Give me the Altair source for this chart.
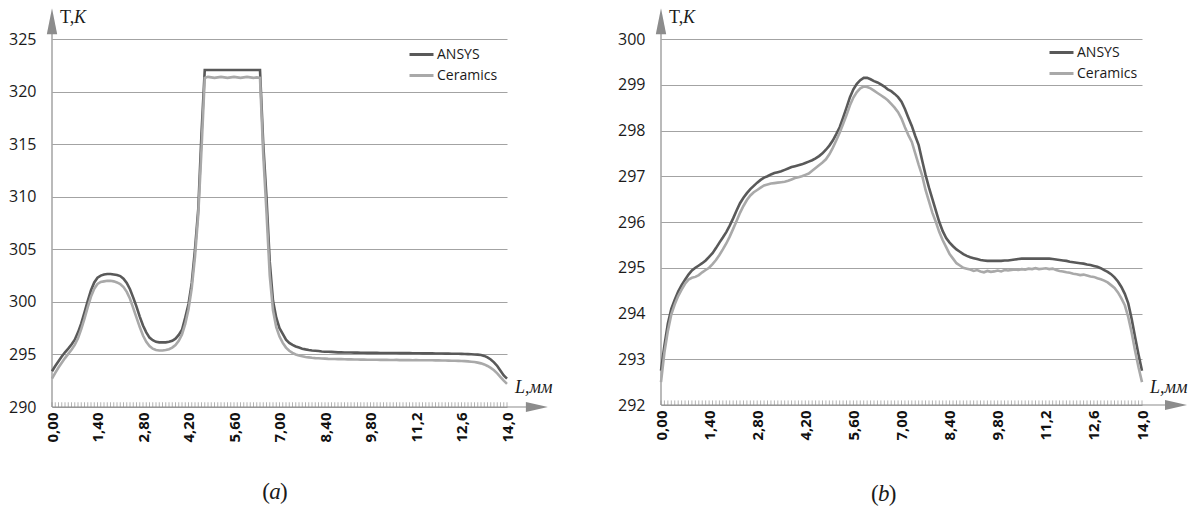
import altair as alt
import pandas as pd

# x positions of the samples (mm), one every 0.1 mm
L_MM = [round(i / 10, 1) for i in range(141)]

SERIES = ["ANSYS", "Ceramics"]
COLORS = ["#595959", "#a9a9a9"]
LABEL_STEPS = [0.0, 1.4, 2.8, 4.2, 5.6, 7.0, 8.4, 9.8, 11.2, 12.6, 14.0]
Y_TICKS_A = [290, 295, 300, 305, 310, 315, 320, 325]
Y_TICKS_B = [292, 293, 294, 295, 296, 297, 298, 299, 300]

# ---- panel (a) ----
ANSYS_A = [
    293.4, 293.9, 294.35, 294.8, 295.2, 295.55, 295.95, 296.4, 297.1, 297.95,
    299.0, 300.1, 301.1, 301.85, 302.3, 302.5, 302.6, 302.65, 302.65, 302.6,
    302.55, 302.45, 302.2, 301.8, 301.2, 300.4, 299.55, 298.6, 297.75, 297.1,
    296.6, 296.35, 296.2, 296.15, 296.15, 296.15, 296.2, 296.3, 296.5, 296.85,
    297.35, 298.5, 299.8, 301.8, 305.0, 308.8, 316.0, 322.05, 322.05, 322.05,
    322.05, 322.05, 322.05, 322.05, 322.05, 322.05, 322.05, 322.05, 322.05, 322.05,
    322.05, 322.05, 322.05, 322.05, 322.05, 315.0, 309.9, 303.8, 300.1, 298.5,
    297.5, 296.95, 296.4, 296.1, 295.9, 295.75, 295.65, 295.55, 295.48, 295.42,
    295.38, 295.35, 295.32, 295.28, 295.26, 295.25, 295.24, 295.22, 295.2, 295.2,
    295.19, 295.18, 295.18, 295.17, 295.17, 295.16, 295.16, 295.15, 295.15, 295.15,
    295.15, 295.14, 295.14, 295.14, 295.13, 295.13, 295.13, 295.12, 295.12, 295.12,
    295.12, 295.11, 295.11, 295.11, 295.1, 295.1, 295.1, 295.1, 295.09, 295.09,
    295.09, 295.08, 295.08, 295.07, 295.07, 295.06, 295.05, 295.04, 295.03, 295.02,
    295.0, 294.98, 294.94, 294.86, 294.72, 294.52, 294.25, 293.9, 293.45, 293.0,
    292.7,
]
CERAMICS_A = [
    292.7, 293.25, 293.75, 294.2, 294.65, 295.05, 295.45, 295.9, 296.55, 297.4,
    298.4, 299.5, 300.5, 301.25, 301.7, 301.9, 301.95, 302.0, 302.0, 301.95,
    301.85, 301.7, 301.4, 300.95, 300.3, 299.4, 298.5, 297.6, 296.8, 296.2,
    295.8, 295.55, 295.42, 295.38, 295.38, 295.42, 295.5, 295.65, 295.9, 296.3,
    296.9, 297.9, 299.3, 301.3, 304.3, 308.3, 314.5, 321.3, 321.4, 321.35,
    321.3, 321.35, 321.4, 321.35, 321.3, 321.35, 321.4, 321.35, 321.3, 321.35,
    321.4, 321.35, 321.3, 321.35, 321.3, 314.0, 308.5, 302.5, 299.2, 297.6,
    296.7, 296.1, 295.65, 295.35, 295.15, 295.0, 294.9, 294.82, 294.76, 294.72,
    294.68, 294.65, 294.63, 294.61, 294.6, 294.58, 294.57, 294.56, 294.55, 294.55,
    294.54, 294.53, 294.53, 294.52, 294.52, 294.51, 294.51, 294.5, 294.5, 294.49,
    294.49, 294.48, 294.48, 294.49, 294.47, 294.47, 294.48, 294.46, 294.46, 294.47,
    294.46, 294.45, 294.46, 294.45, 294.45, 294.44, 294.44, 294.45, 294.43, 294.43,
    294.42, 294.42, 294.41, 294.4, 294.4, 294.39, 294.38, 294.36, 294.34, 294.31,
    294.28, 294.22, 294.15, 294.05, 293.9, 293.72, 293.5, 293.2, 292.85, 292.5,
    292.2,
]

# ---- panel (b) ----
ANSYS_B = [
    292.75, 293.3, 293.78, 294.1, 294.3, 294.48, 294.62, 294.74, 294.85, 294.94,
    295.0, 295.05, 295.1, 295.16, 295.24, 295.32, 295.43, 295.55, 295.66, 295.78,
    295.92, 296.08, 296.25, 296.41, 296.53, 296.63, 296.72, 296.79, 296.86, 296.92,
    296.97, 297.0, 297.04, 297.07, 297.09, 297.11, 297.14, 297.17, 297.2, 297.22,
    297.24, 297.26, 297.29, 297.32, 297.35, 297.39, 297.44, 297.5, 297.58, 297.67,
    297.78, 297.92, 298.07, 298.28, 298.5, 298.73, 298.9, 299.02, 299.1, 299.15,
    299.15, 299.12, 299.08, 299.05, 299.01, 298.96, 298.9, 298.86, 298.8, 298.73,
    298.63, 298.47, 298.28, 298.1, 297.88, 297.68, 297.35, 297.03, 296.75, 296.5,
    296.25, 296.0, 295.8, 295.65, 295.55, 295.47, 295.4, 295.35, 295.3, 295.26,
    295.23, 295.21, 295.19, 295.17, 295.16, 295.15, 295.15, 295.15, 295.15, 295.15,
    295.16, 295.16, 295.17, 295.18, 295.19, 295.2, 295.2, 295.2, 295.2, 295.2,
    295.2, 295.2, 295.2, 295.2, 295.19, 295.18, 295.17, 295.16, 295.15, 295.13,
    295.12, 295.11, 295.1, 295.09, 295.07, 295.06, 295.04, 295.02, 294.99, 294.95,
    294.91, 294.86, 294.79, 294.7, 294.58, 294.43, 294.22, 293.88, 293.48, 293.1,
    292.75,
]
CERAMICS_B = [
    292.5, 293.15, 293.62, 293.98, 294.2, 294.38, 294.52, 294.65, 294.74, 294.78,
    294.8, 294.84, 294.9, 294.95, 295.0, 295.08, 295.17, 295.28, 295.4, 295.53,
    295.68, 295.85, 296.02, 296.2, 296.35, 296.48, 296.58, 296.65, 296.7, 296.75,
    296.8, 296.82, 296.84, 296.85, 296.86, 296.87, 296.88, 296.9, 296.93, 296.96,
    296.98, 297.0, 297.03, 297.06, 297.12, 297.18, 297.24, 297.3, 297.37, 297.48,
    297.62, 297.78, 297.95, 298.14, 298.34, 298.55, 298.72, 298.84, 298.92, 298.96,
    298.95, 298.92, 298.87, 298.82, 298.77, 298.72, 298.66, 298.58, 298.5, 298.4,
    298.26, 298.07, 297.9, 297.75, 297.5, 297.25, 297.02, 296.7, 296.45, 296.2,
    296.0, 295.78, 295.6, 295.45, 295.3, 295.2, 295.1, 295.05, 295.0, 294.98,
    294.96, 294.93, 294.95, 294.92, 294.9, 294.93, 294.91, 294.92, 294.94, 294.92,
    294.95, 294.94, 294.95, 294.96, 294.95, 294.97, 294.96, 294.98, 294.97, 294.99,
    294.97, 294.98, 294.99, 294.97, 294.98, 294.95, 294.93, 294.92, 294.9, 294.89,
    294.87, 294.86, 294.84, 294.85, 294.83, 294.81, 294.8, 294.77, 294.75, 294.72,
    294.68, 294.62, 294.56, 294.46, 294.33, 294.18, 293.92, 293.58, 293.18, 292.82,
    292.5,
]

AXIS_GRAY = "#8c8c8c"
TEXT = "#1a1a1a"
UP_ARROW = "M0,-1L0.4,1L-0.4,1Z"
RIGHT_ARROW = "M1,0L-1,-0.45L-1,0.45Z"

X_LABEL_EXPR = (
    "datum.value < 10 ? replace(format(datum.value, '.2f'), '.', ',') "
    ": replace(format(datum.value, '.1f'), '.', ',')"
)


def panel(ansys, ceramics, ymin, ymax, yticks, width, height, g, cap):
    n = len(L_MM)
    df = pd.DataFrame({
        "L": L_MM + L_MM,
        "T": ansys + ceramics,
        "series": [SERIES[0]] * n + [SERIES[1]] * n,
    })
    xs = alt.Scale(domain=[0, 14], nice=False, zero=False)
    ys = alt.Scale(domain=[ymin, ymax], nice=False, zero=False)

    lines = alt.Chart(df).mark_line(strokeWidth=2.6).encode(
        x=alt.X("L:Q", scale=xs, axis=alt.Axis(
            values=LABEL_STEPS, labelAngle=270, labelExpr=X_LABEL_EXPR,
            grid=False, domain=False, ticks=False, title=None,
            labelPadding=5, labelFontSize=15, labelFontWeight="bold",
            labelFlush=False, labelOverlap=False, labelColor="#111111")),
        y=alt.Y("T:Q", scale=ys, axis=alt.Axis(
            values=yticks, grid=True, domain=False, ticks=False, title=None,
            labelPadding=16, labelFontSize=16, labelColor=TEXT,
            gridColor="#a3a3a3", gridWidth=1)),
        color=alt.Color("series:N", scale=alt.Scale(domain=SERIES, range=COLORS),
                        legend=alt.Legend(
                            orient="none", legendX=g["legx"], legendY=g["legy"],
                            title=None, symbolType="stroke", symbolSize=576,
                            symbolStrokeWidth=3, labelFontSize=14,
                            labelFont="Open Sans", labelColor=TEXT,
                            labelOffset=2, rowPadding=0, padding=0)),
    )

    tick_df = pd.DataFrame({"L": L_MM})
    minor = alt.Chart(tick_df).mark_rule(color="#b3b3b3", strokeWidth=1).encode(
        x="L:Q", y=alt.datum(ymin), y2=alt.datum(ymin + g["tick_h"]))

    one = alt.Chart(pd.DataFrame({"k": [0]}))
    xaxis = one.mark_rule(color=AXIS_GRAY, strokeWidth=1.2).encode(
        x=alt.datum(0), x2=alt.datum(g["x_rule"]), y=alt.datum(ymin))
    yaxis = one.mark_rule(color=AXIS_GRAY, strokeWidth=1.2).encode(
        x=alt.datum(0), y=alt.datum(ymin), y2=alt.datum(g["y_rule"]))
    xarrow = one.mark_point(shape=RIGHT_ARROW, filled=True, size=484,
                            color=AXIS_GRAY, opacity=1, strokeWidth=0).encode(
        x=alt.datum(g["x_arrow"]), y=alt.datum(ymin))
    yarrow = one.mark_point(shape=UP_ARROW, filled=True, size=676,
                            color=AXIS_GRAY, opacity=1, strokeWidth=0).encode(
        x=alt.datum(0), y=alt.datum(g["y_arrow"]))

    t_lab = one.mark_text(text="T,", font="Liberation Serif", fontSize=18,
                          align="left", baseline="alphabetic", dx=8,
                          color=TEXT).encode(x=alt.datum(0), y=alt.datum(g["t_y"]))
    k_lab = one.mark_text(text="K", font="Liberation Serif", fontSize=18,
                          fontStyle="italic", align="left", baseline="alphabetic",
                          dx=22, color=TEXT).encode(x=alt.datum(0), y=alt.datum(g["t_y"]))
    l_lab = one.mark_text(text="L,мм", font="Liberation Serif", fontSize=18,
                          fontStyle="italic", align="left", baseline="alphabetic",
                          dx=8, color=TEXT).encode(x=alt.datum(14), y=alt.datum(g["l_y"]))

    c1 = one.mark_text(text="(", font="Liberation Serif", fontSize=23,
                       align="right", baseline="middle", dx=-5,
                       color=TEXT).encode(x=alt.datum(g["cap_x"]), y=alt.datum(g["cap_y"]))
    c2 = one.mark_text(text=cap, font="Liberation Serif", fontSize=23,
                       fontStyle="italic", align="center", baseline="middle",
                       color=TEXT).encode(x=alt.datum(g["cap_x"]), y=alt.datum(g["cap_y"]))
    c3 = one.mark_text(text=")", font="Liberation Serif", fontSize=23,
                       align="left", baseline="middle", dx=5,
                       color=TEXT).encode(x=alt.datum(g["cap_x"]), y=alt.datum(g["cap_y"]))

    return alt.layer(minor, xaxis, yaxis, xarrow, yarrow, lines,
                     t_lab, k_lab, l_lab, c1, c2, c3).properties(
        width=width, height=height)


left = panel(ANSYS_A, CERAMICS_A, 290, 325, Y_TICKS_A, 455, 368, {
    "legx": 356, "legy": 2, "tick_h": 0.45,
    "x_rule": 14.6, "x_arrow": 14.92, "y_rule": 325.5, "y_arrow": 326.7,
    "t_y": 326.52, "l_y": 291.33, "cap_x": 6.86, "cap_y": 281.9,
}, "a")

right = panel(ANSYS_B, CERAMICS_B, 292, 300, Y_TICKS_B, 481, 366, {
    "legx": 387, "legy": 0, "tick_h": 0.1,
    "x_rule": 14.7, "x_arrow": 14.99, "y_rule": 300.12, "y_arrow": 300.39,
    "t_y": 300.35, "l_y": 292.26, "cap_x": 6.48, "cap_y": 290.05,
}, "b")

chart = alt.hconcat(left, right, spacing=64).resolve_scale(
    color="independent").resolve_legend(color="independent").properties(
    padding=0, background="white").configure_view(stroke=None).configure_axis(
    labelFont="Open Sans")

chart.save("out.html", embed_options={"renderer": "svg", "actions": False})
